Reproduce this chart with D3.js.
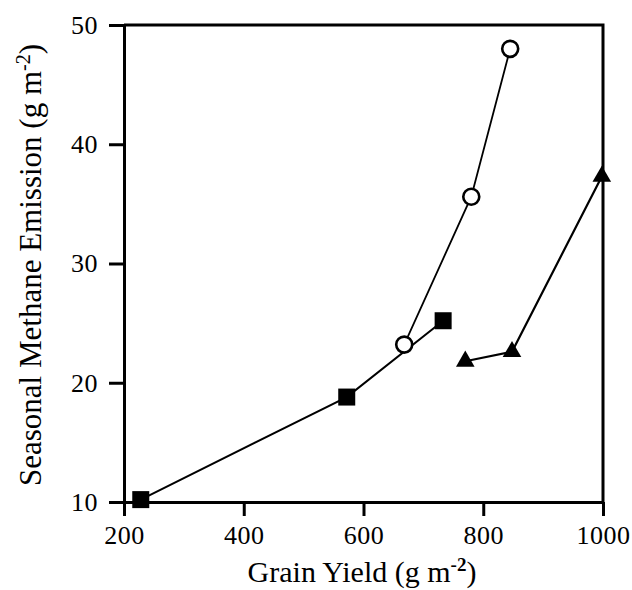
<!DOCTYPE html>
<html>
<head>
<meta charset="utf-8">
<script src="https://d3js.org/d3.v7.min.js"></script>
<style>
  body { margin: 0; background: #fff; }
  text { font-family: "Liberation Serif", "Times New Roman", serif; fill: #000; }
</style>
</head>
<body>
<div id="chart"></div>
<script>
// grain yield (g m-2) vs seasonal methane emission (g m-2)
var squareYield = [228, 572, 733];
var squareEmission = [10.2, 18.8, 25.2];
var circleYield = [668, 780, 845];
var circleEmission = [23.2, 35.6, 48.0];
var triangleYield = [770, 848, 998];
var triangleEmission = [21.8, 22.6, 37.3];
var xTicks = [200, 400, 600, 800, 1000];
var yTicks = [10, 20, 30, 40, 50];

var margin = { top: 25, right: 29, bottom: 88, left: 124 },
  width = 632 - margin.left - margin.right,
  height = 590 - margin.top - margin.bottom;

var xScale = d3.scaleLinear().domain([200, 1000]).range([0, width]);
var yScale = d3.scaleLinear().domain([10, 50]).range([height, 0]);

var svg = d3.select('#chart')
  .append('svg')
  .attr('width', 632)
  .attr('height', 590)
  .append('g')
  .attr('transform', 'translate(' + margin.left + ',' + margin.top + ')');

function pairs(xs, ys) {
  return xs.map(function(x, i) { return { x: x, y: ys[i] }; });
}

var line = d3.line()
  .x(function(d) { return xScale(d.x); })
  .y(function(d) { return yScale(d.y); });

// frame: top and right sides
svg.append('path')
  .attr('d', 'M' + xScale(200) + ',' + yScale(50) + 'H' + xScale(1000) + 'V' + yScale(10))
  .attr('fill', 'none')
  .attr('stroke', '#000')
  .attr('stroke-width', 3);

var xAxis = svg.append('g')
  .attr('transform', 'translate(0,' + height + ')')
  .call(d3.axisBottom(xScale).tickValues(xTicks).tickFormat(d3.format('d'))
    .tickSize(14).tickSizeOuter(0).tickPadding(10));

var yAxis = svg.append('g')
  .call(d3.axisLeft(yScale).tickValues(yTicks).tickFormat(d3.format('d'))
    .tickSize(15).tickSizeOuter(0).tickPadding(11));

[xAxis, yAxis].forEach(function(ax) {
  ax.attr('font-family', '"Liberation Serif", serif').attr('font-size', 26);
  ax.select('.domain').attr('stroke-width', 3);
  ax.selectAll('.tick line').attr('stroke-width', 3);
  ax.selectAll('.tick text').style('letter-spacing', '0.5px');
});

// series lines
svg.append('path')
  .datum(pairs(squareYield, squareEmission))
  .attr('d', line)
  .attr('fill', 'none')
  .attr('stroke', '#000')
  .attr('stroke-width', 2);

svg.append('path')
  .datum(pairs(circleYield, circleEmission))
  .attr('d', line)
  .attr('fill', 'none')
  .attr('stroke', '#000')
  .attr('stroke-width', 1.8);

svg.append('path')
  .datum(pairs(triangleYield, triangleEmission))
  .attr('d', line)
  .attr('fill', 'none')
  .attr('stroke', '#000')
  .attr('stroke-width', 2.2);

// markers
svg.selectAll('.sq')
  .data(pairs(squareYield, squareEmission))
  .enter().append('rect')
  .attr('class', 'sq')
  .attr('x', function(d) { return xScale(d.x) - 8.5; })
  .attr('y', function(d) { return yScale(d.y) - 8.5; })
  .attr('width', 17)
  .attr('height', 17)
  .attr('fill', '#000');

svg.selectAll('.ci')
  .data(pairs(circleYield, circleEmission))
  .enter().append('circle')
  .attr('class', 'ci')
  .attr('cx', function(d) { return xScale(d.x); })
  .attr('cy', function(d) { return yScale(d.y); })
  .attr('r', 8)
  .attr('fill', '#fff')
  .attr('stroke', '#000')
  .attr('stroke-width', 2.6);

var tri = d3.symbol().type(d3.symbolTriangle).size(150);
svg.selectAll('.tr')
  .data(pairs(triangleYield, triangleEmission))
  .enter().append('path')
  .attr('class', 'tr')
  .attr('transform', function(d) { return 'translate(' + xScale(d.x) + ',' + yScale(d.y) + ')'; })
  .attr('d', tri)
  .attr('fill', '#000');

// axis titles
var xTitle = svg.append('text')
  .attr('x', 362 - margin.left)
  .attr('y', height + 80)
  .style('font-size', '30px')
  .style('text-anchor', 'middle');
xTitle.append('tspan').text('Grain Yield (g m');
xTitle.append('tspan').attr('dy', -11).style('font-size', '19px').style('font-weight', 'bold').text('-2');
xTitle.append('tspan').attr('dy', 11).text(')');

var yTitle = svg.append('text')
  .attr('transform', 'rotate(-90)')
  .attr('x', -(265 - margin.top))
  .attr('y', -margin.left + 41)
  .style('font-size', '31px')
  .style('text-anchor', 'middle');
yTitle.append('tspan').text('Seasonal Methane Emission (g m');
yTitle.append('tspan').attr('dy', -11).style('font-size', '20px').text('-2');
yTitle.append('tspan').attr('dy', 11).text(')');
</script>
</body>
</html>
